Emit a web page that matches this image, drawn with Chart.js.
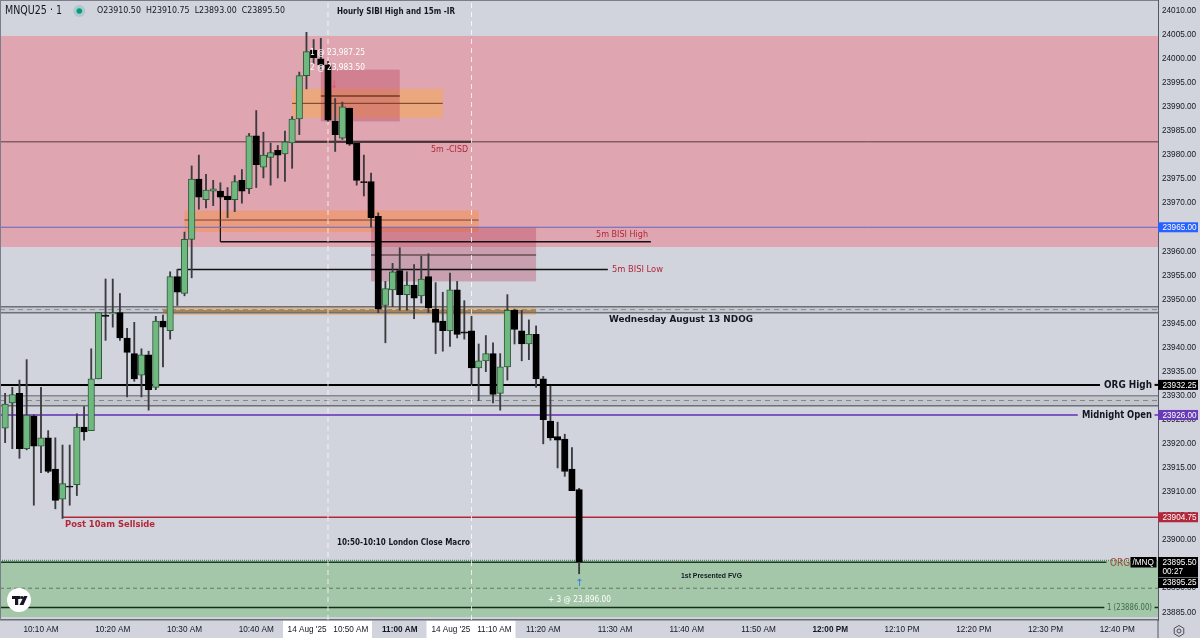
<!DOCTYPE html>
<html><head><meta charset="utf-8">
<style>html,body{margin:0;padding:0;background:#d1d4dc;overflow:hidden}canvas{display:block}</style>
<script src="https://cdn.jsdelivr.net/npm/chart.js@4"></script>
</head><body><canvas id="c" width="1200" height="638"></canvas>
<script>
// minutes after 10:10 AM of each 1-minute candle
const minutes = [-5,-4,-3,-2,-1,0,1,2,3,4,5,6,7,8,9,10,11,12,13,14,15,16,17,18,19,20,21,22,23,24,25,26,27,28,29,30,31,32,33,34,35,36,37,38,39,40,41,42,43,44,45,46,47,48,49,50,51,52,53,54,55,56,57,58,59,60,61,62,63,64,65,66,67,68,69,70,71,72,73,74,75];
const opens = [23923.25,23928.5,23930.5,23919,23925.75,23919.5,23921.25,23914.75,23908.5,23911.25,
23911.5,23923.5,23922.75,23933.5,23946.75,23947,23947.25,23942,23938.75,23934.25,
23938.5,23931.75,23945.5,23943.5,23954.75,23951.25,23962.5,23975,23970.75,23972.5,
23972.5,23971.5,23970.75,23974.75,23973,23984,23977.5,23979.5,23981,23980.25,
23982.5,23987.5,23996.5,24001.75,24000,23998.75,23987,23983.5,23989.75,23982.5,
23974.5,23974.5,23967.25,23948.75,23952,23956,23951,23953,23950.75,23954.75,
23948,23945.5,23943.5,23952,23943.25,23943.5,23935.75,23937.25,23938.75,23930.5,
23936,23947.75,23943.5,23940.75,23942.75,23933.5,23924.75,23921.5,23921,23914.75,23910.5];
const highs = [23930.5,23931.75,23933.25,23937.5,23926,23931.75,23922.75,23921.25,23919.75,23919.75,
23926.25,23927.75,23939.75,23947.25,23954.25,23954.25,23951.25,23944,23945.25,23939.75,
23939.25,23946.5,23946.75,23955.75,23956.25,23964,23977.75,23980,23976,23974.75,
23974.25,23973.25,23975.75,23977,23984.5,23989.25,23984.75,23982.5,23982,23985,
23988,23997.25,24005.5,24004,24004.25,23999.5,23991.75,23991,23989.75,23982.5,
23980,23976.25,23968,23953.75,23957.5,23960.75,23955.75,23957.25,23959,23959.5,
23953.5,23951.5,23955.5,23953.75,23949.75,23946.5,23940.75,23942.5,23941,23938.75,
23951,23948,23947.75,23945.75,23944.5,23934,23932,23924.5,23922,23919.25,23910.75];
const lows = [23920.25,23919,23917,23918.75,23907.25,23914,23914,23906.5,23904.5,23907.25,
23909.25,23920.75,23922.75,23933.5,23941.5,23944.25,23941.5,23929.75,23933,23929.75,
23927,23931.25,23936,23941.75,23948.75,23950.75,23954.5,23968.75,23969,23969.5,
23971,23967,23968.25,23970,23972,23973.25,23975.25,23973.75,23975.25,23974.5,
23977.25,23984.25,23993.75,23999,23997.75,23987,23980.75,23983.25,23982,23973.75,
23971.5,23965,23947.25,23941,23948.5,23947.75,23947.75,23946,23949.25,23947.25,
23938.75,23939.25,23940.25,23942,23941.75,23932.25,23929,23935,23928.5,23927,
23933.25,23940.75,23937.25,23937.5,23931.75,23920,23920.75,23915,23913.25,23910.25,23893];
const closes = [23928.25,23930.25,23919,23926,23919.5,23921.25,23914.25,23908.25,23911.75,23911,
23923.5,23922.5,23933.5,23947.25,23946.5,23947.25,23942,23939,23933.5,23938.5,
23931.25,23945.5,23944.25,23954.75,23951.5,23962.5,23975,23971.25,23972.75,23973,
23971.25,23970.75,23974.5,23972.5,23984,23978,23980,23980.5,23980,23982.75,
23987.5,23996.5,24001.5,24000.25,23998.75,23987.25,23984.25,23990,23982.25,23974.75,
23974.25,23967,23948,23952.25,23955.75,23951,23953,23950.25,23954.25,23948.25,
23945.25,23943.5,23952,23942.75,23943,23935.75,23937.25,23938.75,23930.25,23936,
23947.75,23943.75,23940.75,23942.75,23933.5,23925,23921.25,23920.75,23914.25,23910.25,23895.5];
const tickMinutes = [0,10,20,30,40,50,60,70,80,90,100,110,120,130,140,150];
const tickLabels = ['10:10 AM','10:20 AM','10:30 AM','10:40 AM',"14 Aug '25   10:50 AM",'11:00 AM',"14 Aug '25   11:10 AM",'11:20 AM','11:30 AM','11:40 AM','11:50 AM','12:00 PM','12:10 PM','12:20 PM','12:30 PM','12:40 PM'];
const boldTicks = [50,110];
const priceTicks = [24010,24005,24000,23995,23990,23985,23980,23975,23970,23965,23960,23955,23950,23945,23940,23935,23930,23925,23920,23915,23910,23905,23900,23895,23890,23885];
const xMin = -5.714, xMax = 155.68, yMin = 23883.4, yMax = 24012.22;

// zones: [fromMinute, toMinute, topPrice, bottomPrice, colour]
const pinkZone = [xMin,xMax,24004.75,23960.9,'#dfa5b0'];
const greenZone = [xMin,xMax,23895.6,23884,'#a3c7a8'];
const ndogBand = [xMin,xMax,23948.5,23947.25,'#c3c6cd'];
const orgBand = [xMin,xMax,23930,23927.9,'#c3c6cd'];
const boxes = [
 [35,56,23993.75,23987.75,'rgba(242,170,96,.62)'],
 [20,61,23968.5,23964,'rgba(242,150,96,.62)'],
 [17,69,23948.5,23946.75,'rgba(242,170,80,.55)'],
 [39,50,23997.75,23987,'rgba(180,50,80,.32)'],
 [46,69,23965,23953.75,'rgba(180,50,80,.32)']
];
// lines: [fromMinute, toMinute, price, colour, width, dash]
const levels = [
 [xMin,xMax,23982.75,'#5a3a42',1,[]],
 [35,60,23982.75,'#222',2,[]],
 [xMin,xMax,23965,'#6467c6',1,[]],
 [xMin,xMax,23948.5,'#6e7078',1.5,[]],
 [xMin,xMax,23947.9,'#8a8c94',1,[5,4]],
 [xMin,xMax,23947.25,'#6e7078',1.5,[]],
 [xMin,xMax,23930,'#85878f',1.5,[]],
 [xMin,xMax,23929,'#85878f',1,[5,4]],
 [xMin,xMax,23927.9,'#6e7078',1.5,[]],
 [xMin,147.6,23932.25,'#000',2,[]],
 [155.2,xMax,23932.25,'#000',2,[]],
 [xMin,144.5,23926,'#7e57c2',2,[]],
 [155.2,xMax,23926,'#7e57c2',2,[]],
 [3,xMax,23904.75,'#b2283a',1.5,[]],
 [xMin,148.5,23895.4,'#1d3d25',1.5,[]],
 [xMin,xMax,23895.75,'#4e8a5c',1.5,[1,1]],
 [xMin,xMax,23890,'#5f7a66',1,[4,3]],
 [xMin,148.2,23886,'#10301a',1.5,[]],
 [155.2,xMax,23886,'#10301a',1.5,[]],
 [35,56,23990.75,'#6e3a25',1,[]],
 [39,50,23992.25,'#6e3a25',1.5,[]],
 [20,61,23966.5,'#7a4030',1,[]],
 [46,69,23959.25,'#6e4b55',1.5,[]],
 [17,69,23947.6,'#6e5230',1,[]],
 [25,85,23962,'#111',1.5,[]],
 [19,79,23956.25,'#111',1.5,[]]
];
const elbow = [[25,23971.7],[25,23962]];
const sessionLines = [40,60];

const F='"DejaVu Sans"';
const labels = [
 ['Hourly SIBI High and 15m -IR',337,12,'bold 9px '+F,'#131722',118],
 ['10:50-10:10 London Close Macro',337,543,'bold 9px '+F,'#131722',133],
 ['5m -CISD',431,150,'9.5px '+F,'#b2283a',37],
 ['5m BISI High',596,235,'9.5px '+F,'#b2283a',52],
 ['5m BISI Low',612,269.5,'9.5px '+F,'#b2283a',51],
 ['Wednesday August 13 NDOG',609,320,'bold 9px '+F,'#131722',144],
 ['Post 10am Sellside',65,525,'bold 9.5px '+F,'#b2283a',90],
 ['1st Presented FVG',681,576,'bold 8px "Liberation Sans"','#131722',61],
 ['+ 3 @ 23,896.00',548,600,'9px '+F,'#fff',63],
 ['1 @ 23,987.25',310,53,'9.5px '+F,'#fff',55],
 ['2 @ 23,983.50',310,68,'9.5px '+F,'#fff',55],
 ['ORG High',1104,385,'bold 10.5px '+F,'#131722',48],
 ['Midnight Open',1082,415,'bold 10.5px '+F,'#131722',70],
 ['ORG',1110,563,'10.5px '+F,'#a5483c',20],
 ['1 (23886.00)',1107,607.5,'8.5px '+F,'#3d6b4a',45],
 ['MNQU25 · 1',5,11,'12px '+F,'#131722',57],
 ['O23910.50  H23910.75  L23893.00  C23895.50',97,11,'8.5px '+F,'#131722',188]
];
const priceTags = [
 [23965,'23965.00','#2962ff'],
 [23932.25,'23932.25','#000'],
 [23926,'23926.00','#673ab7'],
 [23904.75,'23904.75','#b2283a']
];

const lineDatasets = levels.map(l => ({
  type:'line', data:[{x:l[0],y:l[2]},{x:l[1],y:l[2]}], borderColor:l[3], borderWidth:l[4], borderDash:l[5],
  pointRadius:0, order:5, tension:0
}));
lineDatasets.push({type:'line',data:elbow.map(p=>({x:p[0],y:p[1]})),borderColor:'#111',borderWidth:1.2,pointRadius:0,order:5});
sessionLines.forEach(m => lineDatasets.push({type:'line',data:[{x:m,y:yMin},{x:m,y:yMax}],borderColor:'rgba(255,255,255,.75)',borderWidth:1,borderDash:[5,4],pointRadius:0,order:4}));

const zonePlugin = {
  id:'zones',
  beforeDraw(ch){
    const c=ch.ctx,X=ch.scales.x,Y=ch.scales.y;
    c.save();
    c.fillStyle='#d1d4dc';c.fillRect(0,0,1200,638);
    [pinkZone,greenZone,ndogBand,orgBand,...boxes].forEach(b=>{
      const x0=X.getPixelForValue(b[0]),x1=X.getPixelForValue(b[1]),y0=Y.getPixelForValue(b[2]),y1=Y.getPixelForValue(b[3]);
      c.fillStyle=b[4];c.fillRect(x0,y0,x1-x0,y1-y0);
    });
    // highlighted date boxes on the time axis
    c.fillStyle='#fff';
    sessionLines.forEach(m=>{const x=X.getPixelForValue(m);c.fillRect(x-45,620.5,89,17.5);});
    c.restore();
  },
  afterDatasetsDraw(ch){
    const c=ch.ctx,Y=ch.scales.y,X=ch.scales.x;
    c.save();
    c.textBaseline='middle';c.textAlign='left';
    labels.forEach(l=>{c.font=l[3];c.fillStyle=l[4];c.fillText(l[0],l[1],l[2],l[5]);});
    // arrows
    c.font='10px "DejaVu Sans"';c.textAlign='center';
    c.fillStyle='#e0566a';c.fillText('↓',334,85);
    c.fillStyle='#2b7fe0';c.fillText('↑',X.getPixelForValue(75),583.5);
    // status dot
    c.fillStyle='rgba(8,153,129,.18)';c.beginPath();c.arc(79.3,11,6,0,7);c.fill();
    c.fillStyle='#089981';c.beginPath();c.arc(79.3,11,2.8,0,7);c.fill();
    // frame lines
    c.fillStyle='#7b7e88';c.fillRect(0,0,1158,1);c.fillRect(0,0,1,620);
    c.fillStyle='#555861';c.fillRect(1157.5,620,1,18);
    // right-axis price tags
    c.font='8.2px "Liberation Sans"';
    priceTags.forEach(t=>{const y=Y.getPixelForValue(t[0]);c.fillStyle=t[2];c.fillRect(1158,y-5,40,10);c.fillStyle='#fff';c.textAlign='left';c.fillText(t[1],1162.5,y+.5);});
    c.fillStyle='#000';c.fillRect(1158,557,40,20);
    c.fillRect(1158,577.5,40,10.5);
    c.fillRect(1130.5,557,26,10.5);
    c.fillStyle='#fff';c.textAlign='left';
    c.fillText('23895.50',1162.5,562.5);c.fillText('00:27',1162.5,571.5);c.fillText('23895.25',1162.5,583);
    c.fillText('/MNQ',1132.5,562.5);
    // logo
    c.fillStyle='#fff';c.beginPath();c.arc(19,600,12,0,7);c.fill();
    c.fillStyle='#131722';
    c.fillRect(12,596,8.5,3);c.fillRect(15,596,3.2,9);
    c.beginPath();c.arc(22,597.5,1.6,0,7);c.fill();
    c.beginPath();c.moveTo(24,596);c.lineTo(27.5,596);c.lineTo(23.5,605);c.lineTo(19.5,605);c.closePath();c.fill();
    // settings gear
    c.strokeStyle='#4a4d57';c.lineWidth=1;c.beginPath();
    for(let k=0;k<6;k++){const a=Math.PI/3*k+Math.PI/6,px=1179+5.5*Math.cos(a),py=631+5.5*Math.sin(a);k?c.lineTo(px,py):c.moveTo(px,py);}
    c.closePath();c.stroke();c.beginPath();c.arc(1179,631,2,0,7);c.stroke();
    c.restore();
  }
};
function noPad(s){s.paddingTop=0;s.paddingBottom=0;s.paddingLeft=0;s.paddingRight=0;}

new Chart(document.getElementById('c'),{
  type:'bar',
  plugins:[zonePlugin],
  data:{datasets:[
    {label:'Candle range',data:minutes.map((m,k)=>({x:m,y:[lows[k],highs[k]]})),backgroundColor:'#3c3c40',barThickness:1.2,grouped:false,order:2},
    {label:'Candle body',data:minutes.map((m,k)=>({x:m,y:[opens[k],closes[k]]})),
     backgroundColor:closes.map((v,k)=>v>=opens[k]?'#6fb87f':'#000'),
     borderColor:closes.map((v,k)=>v>=opens[k]?'#2f5a3a':'#000'),
     borderWidth:1,borderSkipped:false,barThickness:6.5,grouped:false,order:1},
    ...lineDatasets
  ]},
  options:{
    responsive:false,animation:false,
    layout:{padding:0},
    plugins:{legend:{display:false},tooltip:{enabled:false}},
    scales:{
      x:{type:'linear',min:xMin,max:xMax,offset:false,
        grid:{display:false,offset:false,drawTicks:false,tickLength:0},
        border:{display:true,color:'#6a6d78',width:1.5},
        afterFit(s){s.height=18;noPad(s);},
        afterBuildTicks(s){s.ticks=tickMinutes.map(v=>({value:v}));},
        ticks:{autoSkip:false,maxRotation:0,minRotation:0,padding:5,color:'#131722',
          font(ctx){return {family:'"Liberation Sans"',size:8.2,weight:boldTicks.includes(ctx.tick&&ctx.tick.value)?'bold':'normal'};},
          callback(v){const k=tickMinutes.indexOf(v);return k<0?'':tickLabels[k];}}
      },
      y:{type:'linear',position:'right',min:yMin,max:yMax,
        grid:{display:false,drawTicks:false,tickLength:0},
        border:{display:true,color:'#555861',width:1},
        afterFit(s){s.width=42;noPad(s);},
        afterBuildTicks(s){s.ticks=priceTicks.map(v=>({value:v}));},
        ticks:{autoSkip:false,padding:4,color:'#131722',font:{family:'"Liberation Sans"',size:8.2},
          callback(v){return v.toFixed(2);}}
      }
    }
  }
});
</script></body></html>
